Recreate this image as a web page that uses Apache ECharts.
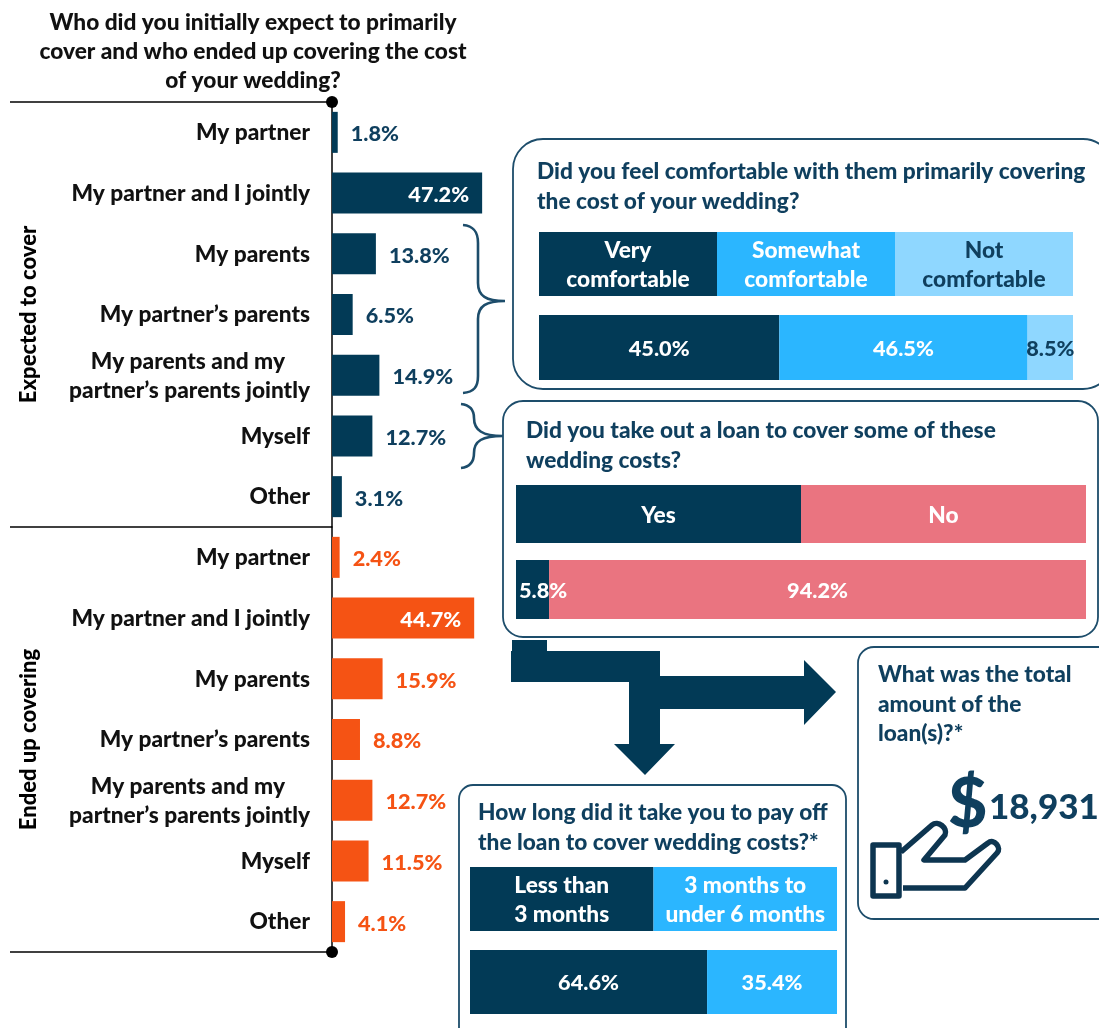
<!DOCTYPE html>
<html><head><meta charset="utf-8">
<style>html,body{margin:0;padding:0;background:#fff}#c{width:1099px;height:1028px}</style>
<script src="https://cdn.jsdelivr.net/npm/echarts@6/dist/echarts.min.js"></script>
</head><body><div id="c"></div>
<script>
const payerCategories = ['My partner','My partner and I jointly','My parents','My partner’s parents','My parents and my\npartner’s parents jointly','Myself','Other'];
const expectedValues = [1.8,47.2,13.8,6.5,14.9,12.7,3.1];
const endedValues = [2.4,44.7,15.9,8.8,12.7,11.5,4.1];
const comfortHeaders = ['Very\ncomfortable','Somewhat\ncomfortable','Not\ncomfortable'];
const comfortValues = [45.0,46.5,8.5];
const loanHeaders = ['Yes','No'];
const loanValues = [5.8,94.2];
const payoffHeaders = ['Less than\n3 months','3 months to\nunder 6 months'];
const payoffValues = [64.6,35.4];
const headerUnits = [1,1,1];
const loanAmount = '18,931';

const FONT='Lato', WEIGHT=900, FS=22.7, FV=21.7, NAVY='#023a56', TXT='#0f3f5e', ORANGE='#f55314', SKY='#2bb6ff', PALE='#8fd7ff', PINK='#ea7480', BORDER='#1d4d6b';
const grids=[],xAxes=[],yAxes=[],series=[];

echarts.graphic.registerShape('freeform',echarts.graphic.extendShape({
  shape:{cmds:[]},
  buildPath(ctx,shape){
    shape.cmds.forEach(c=>{
      if(c[0]==='M')ctx.moveTo(c[1],c[2]);
      else if(c[0]==='L')ctx.lineTo(c[1],c[2]);
      else if(c[0]==='C')ctx.bezierCurveTo(c[1],c[2],c[3],c[4],c[5],c[6]);
      else if(c[0]==='Z')ctx.closePath();
    });
  }
}));

function mainChart(top,height,values,color,labelColor,axisName,nameOffset){
  const i=grids.length;
  grids.push({left:332,top,width:320,height});
  xAxes.push({gridIndex:i,type:'value',min:0,max:100.6,show:false});
  yAxes.push({gridIndex:i,type:'category',inverse:true,data:payerCategories,
    name:axisName,nameLocation:'middle',nameRotate:90,nameGap:nameOffset,
    nameTextStyle:{fontFamily:FONT,fontWeight:WEIGHT,fontSize:22,color:'#000'},
    axisTick:{show:false},axisLine:{show:true,onZero:false,lineStyle:{color:'#000',width:1.5}},
    axisLabel:{margin:22,fontFamily:FONT,fontWeight:WEIGHT,fontSize:FS,color:'#111',lineHeight:29,padding:[1,0,0,0],
      formatter:v=>{const p=v.split('\n');return p.length>1?`{a|${p[0]}}\n{b|${p[1]}}`:`{b|${v}}`;},
      rich:{a:{fontFamily:FONT,fontWeight:WEIGHT,fontSize:FS,color:'#111',padding:[0,25,0,0],lineHeight:29},
            b:{fontFamily:FONT,fontWeight:WEIGHT,fontSize:FS,color:'#111',lineHeight:29}}}});
  series.push({type:'bar',name:axisName,xAxisIndex:i,yAxisIndex:i,barWidth:41,itemStyle:{color},
    data:values.map(v=>{
      const inside=v>40;
      return {value:v,label:{show:true,position:inside?'insideRight':'right',distance:13,offset:[0,2],
        color:inside?'#fff':labelColor,fontFamily:FONT,fontWeight:WEIGHT,fontSize:FV,formatter:p=>p.value.toFixed(1)+'%'}};
    })});
}
function stackBar(box,values,colors,labelColors,labels,fontSize,lineHeight,maxVal,labelOpts){
  const i=grids.length;
  grids.push(box);
  xAxes.push({gridIndex:i,type:'value',min:0,max:maxVal,show:false});
  yAxes.push({gridIndex:i,type:'category',data:[''],show:false});
  values.forEach((v,k)=>{
    const extra=(labelOpts&&labelOpts[k])||{};
    series.push({type:'bar',stack:'s'+i,xAxisIndex:i,yAxisIndex:i,barWidth:'100%',
      itemStyle:{color:colors[k]},data:[v],
      label:Object.assign({show:true,position:'inside',offset:[0,1.5],formatter:labels[k],color:labelColors[k],
        fontFamily:FONT,fontWeight:WEIGHT,fontSize,lineHeight},extra)});
  });
}
mainChart(102,425,expectedValues,NAVY,TXT,'Expected to cover',292);
mainChart(527,425,endedValues,ORANGE,ORANGE,'Ended up covering',292);

const pct=a=>a.map(v=>v.toFixed(1)+'%');
const c3=[NAVY,SKY,PALE];
stackBar({left:539,top:232,width:534,height:64},headerUnits,c3,['#fff','#fff',TXT],comfortHeaders,FS,29,3);
stackBar({left:539,top:315,width:534,height:65},comfortValues,c3,['#fff','#fff',TXT],pct(comfortValues),FV,26,100);
stackBar({left:516,top:485,width:570,height:58},[1,1],[NAVY,PINK],['#fff','#fff'],loanHeaders,FS,29,2);
stackBar({left:516,top:560,width:570,height:59},loanValues,[NAVY,PINK],['#fff','#fff'],pct(loanValues),FV,26,100,
  [{position:'insideLeft',distance:3},{}]);
stackBar({left:470,top:867,width:367,height:64},[1,1],[NAVY,SKY],['#fff','#fff'],payoffHeaders,FS,29,2);
stackBar({left:470,top:950,width:367,height:64},payoffValues,[NAVY,SKY],['#fff','#fff'],pct(payoffValues),FV,26,100);

function box(x,y,w,h,r){return {type:'rect',shape:{x,y,width:w,height:h,r},style:{fill:'#fff',stroke:BORDER,lineWidth:1.8}};}
function txt(x,y,text,size,fill,extra){return {type:'text',x,y,style:Object.assign({text,fill:fill||TXT,fontFamily:FONT,fontWeight:WEIGHT,fontSize:size||FS,lineHeight:29.5,textVerticalAlign:'top'},extra||{})};}
function sep(y){return {type:'line',shape:{x1:10,y1:y,x2:332,y2:y},style:{stroke:'#000',lineWidth:1.5}};}
function dot(y){return {type:'circle',shape:{cx:332,cy:y,r:6},style:{fill:'#000'},z:10};}
const brace1=[['M',463,225],['C',474,226,478,232,478,243],['L',478,283],['C',478,296,486,301,505,301],['C',486,301,478,306,478,319],['L',478,376],['C',478,387,474,392,463,393]];
const brace2=[['M',461,404],['C',470,405,474,410,474,418],['C',474,430,482,436,503,436],['C',482,436,474,441,474,453],['C',474,462,470,467,461,468]];
const hand=[['M',873,845],['L',899,845],['L',899,896],['L',873,896],['Z'],['M',901,852],['L',932,825],['C',938,820,948,828,945,835],['L',924,860],['L',965,860],['L',988,843],['C',994,838,1002,848,997,853],['L',965,888],['L',903,888]];
const graphic=[
  box(513,139,600,250,30),box(503,401,595,236,20),box(858,647,260,272,16),box(459,785,387,270,14),
  sep(102),sep(527),sep(952),dot(102),dot(952),
  {type:'freeform',shape:{cmds:brace1},style:{fill:'none',stroke:BORDER,lineWidth:2.6}},
  {type:'freeform',shape:{cmds:brace2},style:{fill:'none',stroke:BORDER,lineWidth:2.6}},
  {type:'polygon',shape:{points:[[512,640],[547,640],[547,651],[660,651],[660,676],[804,676],[804,660],[836,692],[804,725],[804,709],[660,709],[660,744],[675,744],[645,775],[614,744],[629,744],[629,682],[511,682],[511,651],[512,651]]},style:{fill:NAVY}},
  txt(537,157,'Did you feel comfortable with them primarily covering\nthe cost of your wedding?'),
  txt(526,416,'Did you take out a loan to cover some of these\nwedding costs?'),
  txt(878,660,'What was the total\namount of the\nloan(s)?*'),
  txt(478,798,'How long did it take you to pay off\nthe loan to cover wedding costs?*'),
  txt(948,766,'$',68,TXT,{lineHeight:78}),
  txt(989,787,loanAmount,35,TXT,{lineHeight:42}),
  {type:'freeform',shape:{cmds:hand},style:{fill:'none',stroke:'#0d3550',lineWidth:5.5,lineJoin:'round'}},
  {type:'circle',shape:{cx:886,cy:882,r:2.5},style:{fill:'#0d3550'}}
];
const chart=echarts.init(document.getElementById('c'),null,{renderer:'canvas'});
chart.setOption({animation:false,backgroundColor:'#fff',
  title:{text:'Who did you initially expect to primarily\ncover and who ended up covering the cost\nof your wedding?',left:248,top:3,textAlign:'center',
    textStyle:{fontFamily:FONT,fontWeight:WEIGHT,fontSize:FS,lineHeight:29,color:'#111',align:'center'}},
  grid:grids,xAxis:xAxes,yAxis:yAxes,series,graphic:{elements:graphic}});
</script></body></html>
